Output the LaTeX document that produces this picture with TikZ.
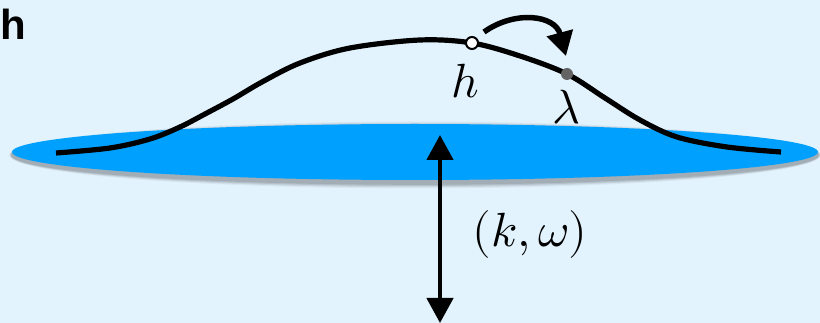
\documentclass[tikz,border=0pt]{standalone}
\usepackage{fontspec}
\usepackage{unicode-math}
\setmathfont{Latin Modern Math}
\newfontfamily\labfont{Liberation Sans}
\usetikzlibrary{arrows.meta}
\definecolor{bgblue}{RGB}{227,243,253}
\definecolor{disk}{RGB}{0,160,255}
\definecolor{dotgray}{RGB}{100,100,100}
\tikzset{
  curveline/.style={line width=5.2pt},
  bigtip/.style={-{Triangle[length=24pt,width=26pt]}},
  mathlab/.style={inner sep=0pt,font=\fontsize{48}{54}\selectfont},
}
\begin{document}
\begin{tikzpicture}[x=1pt,y=-1pt]
\useasboundingbox (0,0) rectangle (820,323);
\fill[bgblue] (0,0) rectangle (820,323);
\node[anchor=base west,inner sep=0pt,font=\labfont\bfseries\fontsize{42}{46}\selectfont] (panel) at (0,40) {h};
% lambda label (partly hidden by disk)
\node[mathlab,anchor=base] (lam) at (566,124) {$\lambda$};
% soft shadow of the disk
\foreach \d/\o in {9/0.05,7/0.07,5/0.09,3/0.1}{
  \fill[black,opacity=\o] (415,155) ellipse [x radius=403+\d*0.3,y radius=28+\d*0.6];
}
% disk
\fill[disk] (415,152) ellipse [x radius=403,y radius=28];
\node[inner sep=0pt,minimum size=0pt] (diskc) at (415,152) {};
% curve
\draw[curveline] plot[smooth,tension=0.55] coordinates {
 (56,153) (110,148) (150,139) (180,127) (205,114) (233,99) (262,82) (300,63) (350,48) (420,40) (472,43) (520,56) (567,74) (605,98) (640,120) (677,137) (727,147) (781,152)};
% points
\node[circle,draw=black,line width=2pt,fill=white,minimum size=12pt,inner sep=0pt] (hpt) at (472,43) {};
\node[circle,fill=dotgray,minimum size=12pt,inner sep=0pt] (lpt) at (567,74) {};
\node[mathlab,anchor=base] (hlab) at (465,98) {$h$};
% hop arrow
\coordinate (hopstart) at (484,32);
\coordinate (hopend) at (566,56);
\draw[line width=5.5pt,bigtip] (hopstart) .. controls (515,10) and (555,15) .. (hopend);
% vertical double arrow
\coordinate (vtop) at (440,135);
\coordinate (vbot) at (440,323);
\draw[line width=4.5pt,{Triangle[length=25pt,width=26pt]}-{Triangle[length=25pt,width=26pt]}] (vtop) -- (vbot);
\node[mathlab] (kw) at (530,235) {$(k,\omega)$};
\end{tikzpicture}
\end{document}
